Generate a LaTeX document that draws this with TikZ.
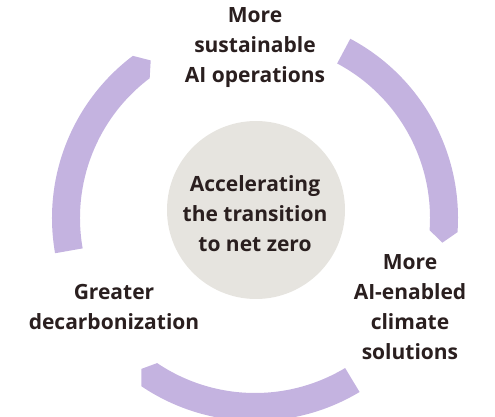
\documentclass[tikz,border=0pt]{standalone}
\usepackage{fontspec}
\setmainfont{Open Sans}
\usetikzlibrary{positioning}

\definecolor{ringlilac}{HTML}{C4B3E0}
\definecolor{hubgray}{HTML}{E6E4DF}
\definecolor{inkdark}{HTML}{2A1F1F}

% ring segment: tail angle, body end angle, tip angle
\newcommand{\ringseg}[3]{%
  \fill[ringlilac, shift={(ringc)}]
    (#1:203pt) arc[start angle=#1, end angle=#2, radius=203pt]
    -- (#3:189pt) -- (#2:175pt)
    arc[start angle=#2, end angle=#1, radius=175pt] -- cycle;}

\begin{document}
\begin{tikzpicture}[
    x=1pt, y=1pt,
    every node/.style={font=\bfseries\fontsize{21}{30}\selectfont, text=inkdark, align=center, inner sep=0pt},
    hub/.style={circle, fill=hubgray, minimum size=178pt}
]
\useasboundingbox (0,0) rectangle (495,417);
\coordinate (ringc) at (255,199);

\ringseg{62}{-4}{-7.5}
\ringseg{-59}{-124}{-127}
\ringseg{190}{127}{123.5}

\node[hub] (hub) at (256,207) {};
\node (hubtext) at (255,203) {Accelerating\\the transition\\to net zero};

\node (ops) at (255,369) {More\\sustainable\\AI operations};
\node (climate) at (410,109.5) {More\\AI-enabled\\climate\\solutions};
\node (decarb) at (114,109.5) {Greater\\decarbonization};
\end{tikzpicture}
\end{document}
